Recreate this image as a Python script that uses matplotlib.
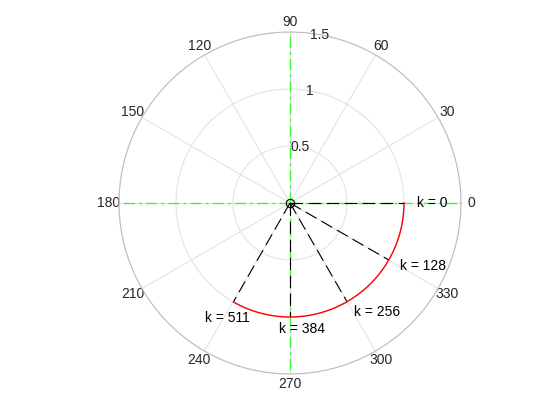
import matplotlib
matplotlib.use('Agg')
import numpy as np
import matplotlib.pyplot as plt

plt.rcParams['font.family'] = ['Liberation Sans', 'DejaVu Sans']
plt.rcParams['lines.scale_dashes'] = False

# chirp contour on the unit circle: 512 points spanning 0 .. -120 degrees
N = 512
arc_radius = 1.0
arc_span_deg = -120.0
marked_k = [0, 128, 256, 384, 511]
label_offsets_px = [(13, 0), (11, -6), (7, -10), (-11, -12), (-28, -16)]
r_ticks = [0.5, 1, 1.5]
theta_ticks = [0, 30, 60, 90, 120, 150, 180, 210, 240, 270, 300, 330]

k = np.arange(N)
theta = np.deg2rad(arc_span_deg) * k / N

fig = plt.figure(figsize=(5.6, 4.2), dpi=100)
ax = fig.add_axes([119 / 560, 46 / 420, 342 / 560, 342 / 420], projection='polar')

grid_col = '#e3e3e3'
text_col = '#262626'

# green reference axes through the origin
green = (0.2, 1.0, 0.2)
for ang in [0, 90, 180, 270]:
    a = np.deg2rad(ang)
    ax.plot([a, a], [0, 1.5], color=green, lw=1.0, ls=(0, (8, 3, 2, 3)), zorder=3)

# dashed lines to marked points
for kk in marked_k:
    ax.plot([0, theta[kk]], [0, arc_radius], color='black', lw=0.8, ls=(0, (9, 4)), zorder=4)

# arc
ax.plot(theta, np.full(N, arc_radius), color='red', lw=1.0, zorder=5)

# origin marker
ax.plot([0], [0], 'o', mfc='none', mec='black', ms=6, mew=0.8, zorder=6)

for kk, off in zip(marked_k, label_offsets_px):
    ax.annotate('k = %d' % kk, xy=(theta[kk], arc_radius), xytext=off,
                textcoords='offset pixels', ha='left', va='center',
                fontsize=10, color='black', zorder=7)

ax.set_ylim(0, 1.5)
ax.set_yticks(r_ticks)
ax.set_yticklabels([])
ax.set_xticks(np.deg2rad(theta_ticks))
ax.set_xticklabels([str(t) for t in theta_ticks], fontsize=10, color=text_col)
ax.tick_params(axis='x', pad=-3)
ax.grid(True, color=grid_col, lw=0.8)
ax.spines['polar'].set_color('#bdbdbd')
ax.spines['polar'].set_linewidth(0.8)

for r in r_ticks:
    ax.text(np.deg2rad(80), r, ('%g' % r), ha='center', va='center',
            fontsize=10, color=text_col, zorder=8)

fig.savefig('out.png', dpi=100)
